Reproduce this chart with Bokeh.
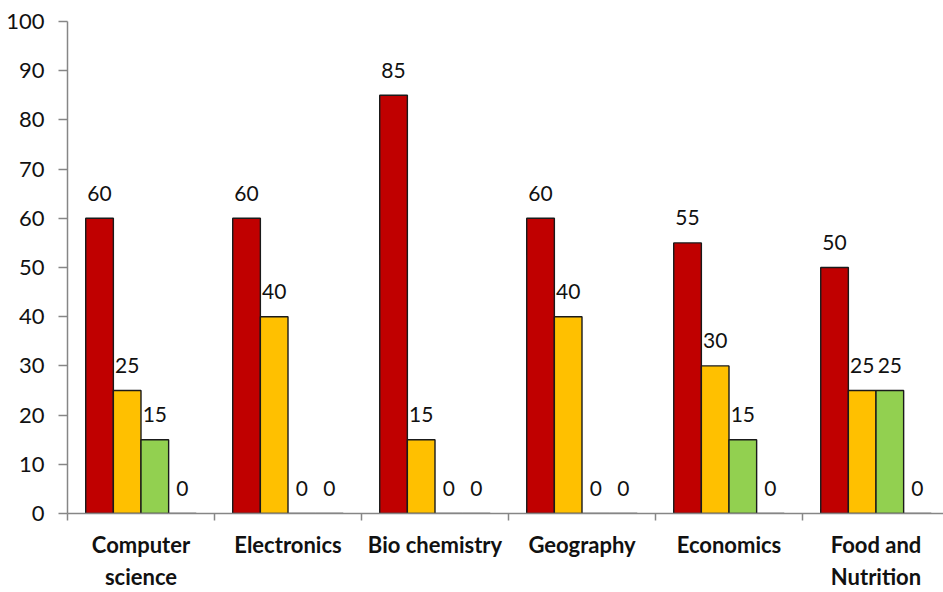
from bokeh.plotting import figure
from bokeh.models import ColumnDataSource, FixedTicker, Range1d
from bokeh.core.properties import value
from bokeh.embed import file_html
from bokeh.resources import INLINE

categories = ["Computer\nscience", "Electronics", "Bio chemistry", "Geography", "Economics", "Food and\nNutrition"]
series_red = [60, 60, 85, 60, 55, 50]
series_orange = [25, 40, 15, 40, 30, 25]
series_green = [15, 0, 0, 0, 15, 25]
series_blue = [0, 0, 0, 0, 0, 0]
y_ticks = [0, 10, 20, 30, 40, 50, 60, 70, 80, 90, 100]

series = [series_red, series_orange, series_green, series_blue]
colors = ["#C00000", "#FFC000", "#92D050", "#4F81BD"]
bar_w = 0.188
offsets = [-1.5 * bar_w, -0.5 * bar_w, 0.5 * bar_w, 1.5 * bar_w]

n = len(categories)
W, H = 943, 592
left, top, bottom = 67, 21, 79
cat_px = 147.0
p = figure(width=W, height=H, output_backend="svg", toolbar_location=None,
           x_range=Range1d(0, (W - left) / cat_px), y_range=Range1d(0, 100),
           min_border_left=left, min_border_right=0, min_border_top=top, min_border_bottom=bottom)
p.outline_line_color = None
p.xgrid.visible = False
p.ygrid.visible = False

for vals, col, off in zip(series, colors, offsets):
    xs = [i + 0.5 + off for i in range(n)]
    src = ColumnDataSource(dict(x=xs, top=vals, lab=[str(v) for v in vals]))
    p.vbar(x="x", top="top", bottom=0, width=bar_w, source=src,
           fill_color=col, line_color="#1a1a1a", line_width=1.4)
    p.text(x="x", y="top", text="lab", source=src, text_align="center",
           text_baseline="alphabetic", y_offset=-25, text_font=value("Lato"),
           text_font_size="21px", text_color="#111111")

# y axis
p.yaxis.ticker = FixedTicker(ticks=y_ticks)
p.yaxis.axis_line_color = "#868686"
p.yaxis.axis_line_width = 1.5
p.yaxis.major_tick_line_color = "#868686"
p.yaxis.major_tick_line_width = 1.5
p.yaxis.major_tick_out = 9
p.yaxis.major_tick_in = 0
p.yaxis.minor_tick_line_color = None
p.yaxis.major_label_text_font = "Lato"
p.yaxis.major_label_text_font_size = "22px"
p.yaxis.major_label_text_color = "#111111"
p.yaxis.major_label_standoff = 14

# x axis: labels at category centres, tick marks at category boundaries
centers = [i + 0.5 for i in range(n)]
bounds = list(range(n + 1))
p.xaxis.ticker = FixedTicker(ticks=centers, minor_ticks=bounds)
p.xaxis.major_label_overrides = {c: lab for c, lab in zip(centers, categories)}
p.xaxis.axis_line_color = "#868686"
p.xaxis.axis_line_width = 1.5
p.xaxis.major_tick_line_color = None
p.xaxis.major_tick_out = 0
p.xaxis.major_tick_in = 0
p.xaxis.minor_tick_line_color = "#868686"
p.xaxis.minor_tick_line_width = 1.5
p.xaxis.minor_tick_out = 7
p.xaxis.minor_tick_in = 0
p.xaxis.major_label_text_font = "Lato"
p.xaxis.major_label_text_font_style = "bold"
p.xaxis.major_label_text_font_size = "22px"
p.xaxis.major_label_text_color = "#111111"
p.xaxis.major_label_standoff = 10

open("out.html", "w").write(file_html(p, INLINE))
